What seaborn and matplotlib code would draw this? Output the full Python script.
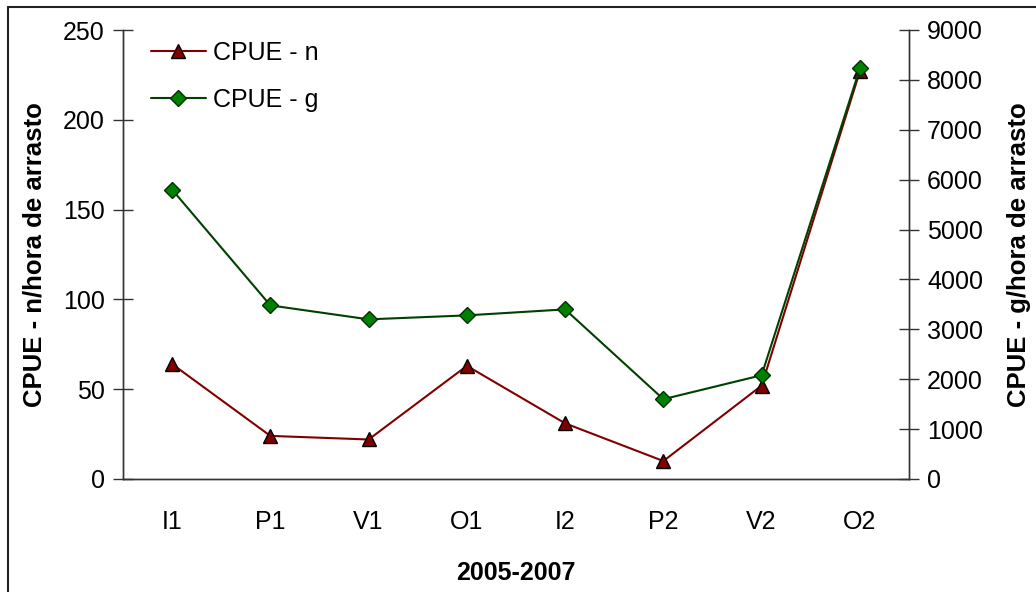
import matplotlib
matplotlib.use('Agg')
import matplotlib.pyplot as plt
import seaborn as sns
import pandas as pd
from matplotlib.lines import Line2D
from matplotlib.ticker import FixedLocator

periodos = ['I1', 'P1', 'V1', 'O1', 'I2', 'P2', 'V2', 'O2']
cpue_n = [64, 24, 22, 63, 31, 10, 52, 227]
cpue_g = [5800, 3480, 3200, 3280, 3400, 1600, 2080, 8230]

df = pd.DataFrame({'periodo': periodos, 'n': cpue_n, 'g': cpue_g})

sns.set_style('white')
plt.rcParams['font.family'] = ['Liberation Sans', 'DejaVu Sans']
plt.rcParams['text.color'] = 'black'
plt.rcParams['axes.labelcolor'] = 'black'
plt.rcParams['xtick.color'] = 'black'
plt.rcParams['ytick.color'] = 'black'

W, H = 1036, 592
fig = plt.figure(figsize=(W / 100, H / 100), dpi=100)
ax = fig.add_axes([123 / W, 1 - 479 / H, (909 - 123) / W, (479 - 30) / H])
ax2 = ax.twinx()

sns.lineplot(data=df, x='periodo', y='n', ax=ax, color='#800000', lw=1.5,
             marker='^', markersize=10, markerfacecolor='#800000',
             markeredgecolor='black', markeredgewidth=1, label='CPUE - n', legend=False)
sns.lineplot(data=df, x='periodo', y='g', ax=ax2, color='#004000', lw=1.5,
             marker='D', markersize=8, markerfacecolor='#008000',
             markeredgecolor='#003000', markeredgewidth=1, label='CPUE - g', legend=False)

fs = 18
ax.set_xlim(-0.5, len(periodos) - 0.5)
ax.set_ylim(0, 250)
ax2.set_ylim(0, 9000)
ax.set_yticks(range(0, 251, 50))
ax2.set_yticks(range(0, 9001, 1000))

# category ticks at boundaries, labels centred
ax.xaxis.set_minor_locator(FixedLocator([i - 0.5 for i in range(len(periodos) + 1)]))
ax.tick_params(axis='x', which='major', length=0, labelsize=fs, pad=22)
ax.tick_params(axis='x', which='minor', direction='inout', length=14, width=1, color='#333333')
ax.tick_params(axis='y', direction='inout', length=14, width=1, color='#333333', labelsize=fs, pad=6)
ax2.tick_params(axis='y', direction='inout', length=14, width=1, color='#333333', labelsize=fs, pad=6)

for a in (ax, ax2):
    a.spines['top'].set_visible(False)
    for s in ('left', 'right', 'bottom'):
        a.spines[s].set_color('#333333')
        a.spines[s].set_linewidth(1)
    a.grid(False)
ax.patch.set_alpha(0)

ax.set_xlabel('2005-2007', fontsize=fs, fontweight='bold', labelpad=20)
ax.set_ylabel('CPUE - n/hora de arrasto', fontsize=18.5, fontweight='bold', labelpad=12)
ax2.set_ylabel('CPUE - g/hora de arrasto', fontsize=18.5, fontweight='bold', labelpad=17)

handles = [ax.get_lines()[0], ax2.get_lines()[0]]
ax.legend(handles=handles, labels=['CPUE - n', 'CPUE - g'], loc='upper left',
          bbox_to_anchor=(0.035, 0.975), frameon=False, fontsize=fs,
          handlelength=2.2, handletextpad=0.3, labelspacing=0.9, borderaxespad=0, borderpad=0)

# chart frame (only left and top edges visible in the crop)
fig.add_artist(Line2D([8 / W, 8 / W], [0, 1 - 7 / H], color='#222222', lw=1.5, transform=fig.transFigure))
fig.add_artist(Line2D([8 / W, 1], [1 - 7 / H, 1 - 7 / H], color='#222222', lw=1.5, transform=fig.transFigure))

fig.savefig('out.png', dpi=100, facecolor='white')
